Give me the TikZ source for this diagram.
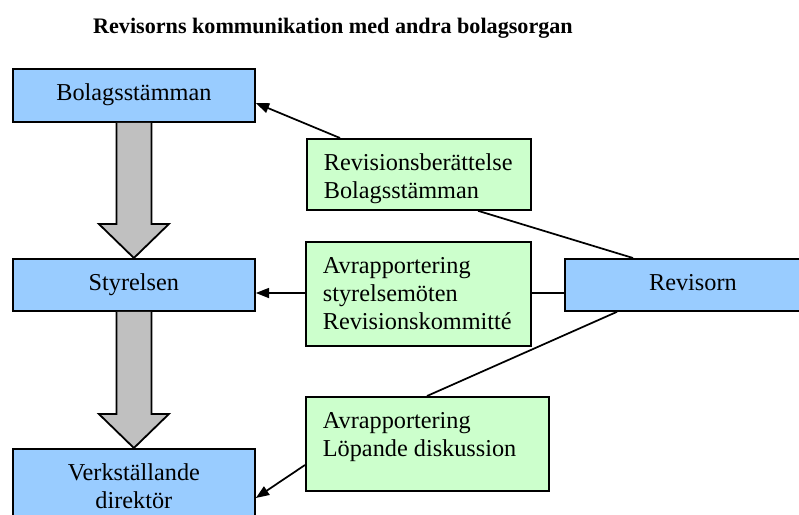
\documentclass[tikz,border=0pt]{standalone}
\usepackage{fontspec}
\newfontfamily\tnr{Liberation Serif}
\usetikzlibrary{calc,arrows.meta}
\definecolor{boxblue}{HTML}{99CCFF}
\definecolor{boxgreen}{HTML}{CCFFCC}
\definecolor{arrowgray}{HTML}{C0C0C0}
\newcommand\boxtext[4]{\parbox[c][#2][t]{#1}{\tnr\fontsize{18.2}{21}\selectfont\hyphenpenalty=10000 #3\rule{0pt}{24pt}#4\par}}
\newcommand\leftal{\raggedright\leftskip=12.75pt\relax}
\tikzset{
  bluebox/.style={draw, line width=1.35pt, fill=boxblue, inner sep=0pt, anchor=north west},
  greenbox/.style={draw, line width=1.35pt, fill=boxgreen, inner sep=0pt, anchor=north west},
  conn/.style={line width=1.3pt},
  arr/.style={conn, -{Triangle[length=10pt,width=7.5pt]}},
  blockarrow/.style={draw, line width=1.35pt, fill=arrowgray, line join=miter},
  titletext/.style={font=\tnr\bfseries\fontsize{16.6}{21}\selectfont, anchor=base, inner sep=0pt}
}
\begin{document}
\begin{tikzpicture}[x=0.75pt,y=-0.75pt]
\useasboundingbox (0,0) rectangle (799,514);
\clip (0,0) rectangle (799,514);
\node[titletext] (title) at (333,33) {Revisorns kommunikation med andra bolagsorgan};
% left column
\node[bluebox] (bs) at (12,68) {\boxtext{181.5pt}{39.75pt}{\centering}{Bolagsstämman}};
\node[bluebox] (st) at (12,258) {\boxtext{181.5pt}{39pt}{\centering}{Styrelsen}};
\node[bluebox] (vd) at (12,448) {\boxtext{181.5pt}{75pt}{\centering}{Verkställande\\direktör}};
% auditor
\node[bluebox] (rev) at (564,258) {\boxtext{192pt}{39pt}{\centering}{Revisorn}};
% green boxes
\node[greenbox] (g1) at (306,138) {\boxtext{168pt}{53.25pt}{\leftal}{Revisionsberättelse\\Bolagsstämman}};
\node[greenbox] (g2) at (305,241) {\boxtext{168.75pt}{78pt}{\leftal}{Avrapportering\\styrelsemöten\\Revisionskommitté}};
\node[greenbox] (g3) at (305,396) {\boxtext{182.25pt}{70.5pt}{\leftal}{Avrapportering\\Löpande diskussion}};
% block arrows
\draw[blockarrow] ($(bs.south)+(-17.5,0)$) -- ($(st.north)+(-17.5,-34)$) -- ($(st.north)+(-35,-34)$) -- (st.north) -- ($(st.north)+(35,-34)$) -- ($(st.north)+(17.5,-34)$) -- ($(bs.south)+(17.5,0)$);
\draw[blockarrow] ($(st.south)+(-17.5,0)$) -- ($(vd.north)+(-17.5,-34)$) -- ($(vd.north)+(-35,-34)$) -- (vd.north) -- ($(vd.north)+(35,-34)$) -- ($(vd.north)+(17.5,-34)$) -- ($(st.south)+(17.5,0)$);
% connectors
\draw[arr] ($(g1.north west)+(34,0)$) -- ($(bs.north east)+(0,35)$);
\draw[conn] ($(rev.north west)+(69,0)$) -- ($(g1.south west)+(172,0)$);
\draw[conn] ($(rev.north west)+(0,35)$) -- ($(g2.north east)+(0,52)$);
\draw[arr] ($(g2.north west)+(0,52)$) -- ($(st.north east)+(0,35)$);
\draw[conn] ($(rev.south west)+(53,0)$) -- ($(g3.north west)+(122,0)$);
\draw[arr] ($(g3.north west)+(0,69)$) -- ($(vd.north east)+(0,50)$);
\end{tikzpicture}
\end{document}
